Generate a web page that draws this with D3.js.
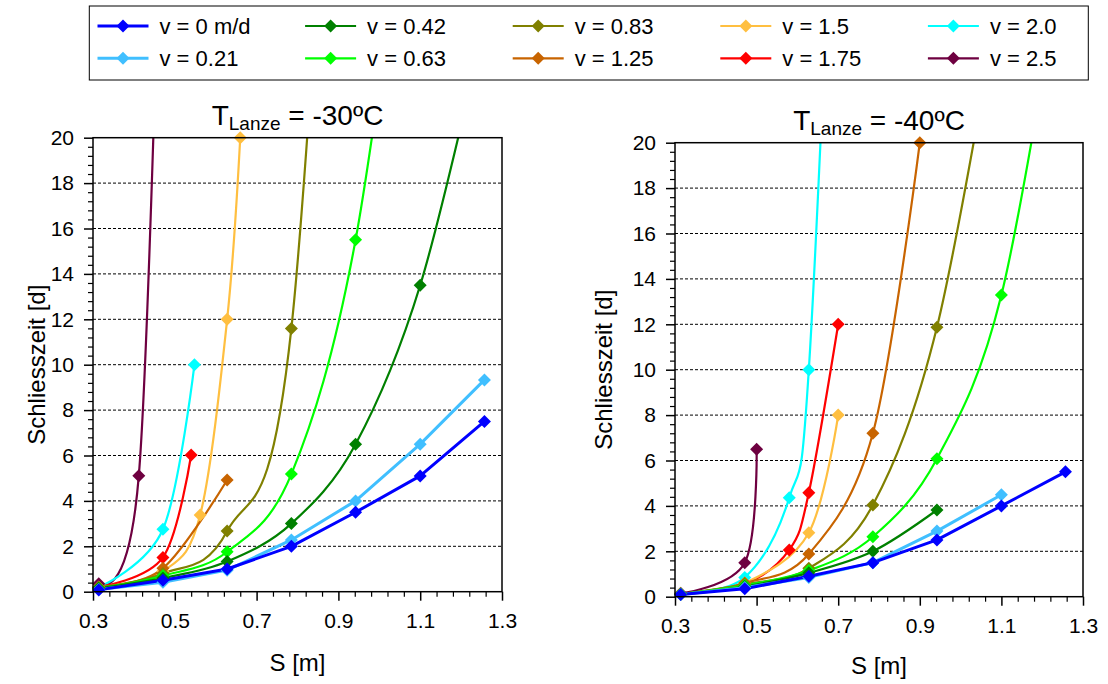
<!DOCTYPE html>
<html>
<head>
<meta charset="utf-8">
<script src="https://cdn.jsdelivr.net/npm/d3@7"></script>
<style>
  html, body { margin: 0; padding: 0; background: #fff; }
  svg { display: block; font-family: "Liberation Sans", Arial, sans-serif; }
</style>
</head>
<body>
<svg id="chart" width="1108" height="684"></svg>
<script>
// ---------------- DATA ----------------
const seriesNames = ["v = 0 m/d", "v = 0.21", "v = 0.42", "v = 0.63", "v = 0.83",
                     "v = 1.25", "v = 1.5", "v = 1.75", "v = 2.0", "v = 2.5"];
const seriesColors = ["#0000FF", "#40BFFF", "#008000", "#00FF00", "#808000",
                      "#C86400", "#FFBF40", "#FF0000", "#00FFFF", "#6E0040"];

const xTicks = [0.3, 0.5, 0.7, 0.9, 1.1, 1.3];
const yTicks = [0, 2, 4, 6, 8, 10, 12, 14, 16, 18, 20];

// T_Lanze = -30 °C  : [S (m), Schliesszeit (d)]; points above 20 lie outside the plot (clipped)
const m30_v000 = [[0.314,0.08],[0.471,0.5],[0.628,1.0],[0.785,2.0],[0.942,3.5],[1.1,5.1],[1.257,7.5]];
const m30_v021 = [[0.314,0.1],[0.471,0.42],[0.628,0.95],[0.785,2.28],[0.942,4.0],[1.1,6.5],[1.257,9.33]];
const m30_v042 = [[0.314,0.15],[0.471,0.6],[0.628,1.33],[0.785,3.0],[0.942,6.5],[1.1,13.5],[1.257,25]];
const m30_v063 = [[0.314,0.15],[0.471,0.7],[0.628,1.76],[0.785,5.18],[0.942,15.5],[1.1,36]];
const m30_v083 = [[0.314,0.2],[0.471,0.8],[0.628,2.67],[0.785,11.6],[0.942,55]];
const m30_v125 = [[0.314,0.2],[0.471,1.03],[0.628,4.92]];
const m30_v150 = [[0.314,0.2],[0.471,0.9],[0.562,3.38],[0.628,12.0],[0.66,20]];
const m30_v175 = [[0.314,0.2],[0.471,1.51],[0.54,6.02]];
const m30_v200 = [[0.314,0.2],[0.471,2.75],[0.548,10.0]];
const m30_v250 = [[0.314,0.35],[0.412,5.11],[0.471,35]];

// T_Lanze = -40 °C
const m40_v000 = [[0.314,0.1],[0.471,0.35],[0.628,0.9],[0.785,1.5],[0.942,2.5],[1.1,4.0],[1.257,5.5]];
const m40_v021 = [[0.314,0.1],[0.471,0.4],[0.628,0.85],[0.785,1.5],[0.942,2.89],[1.1,4.49]];
const m40_v042 = [[0.314,0.1],[0.471,0.45],[0.628,1.05],[0.785,2.0],[0.942,3.82]];
const m40_v063 = [[0.314,0.12],[0.471,0.5],[0.628,1.15],[0.785,2.64],[0.942,6.08],[1.1,13.29],[1.257,29]];
const m40_v083 = [[0.314,0.12],[0.471,0.55],[0.628,1.25],[0.785,4.04],[0.942,11.87],[1.1,27]];
const m40_v125 = [[0.314,0.12],[0.471,0.6],[0.628,1.88],[0.785,7.2],[0.9,20]];
const m40_v150 = [[0.314,0.12],[0.471,0.6],[0.628,2.82],[0.7,8.0]];
const m40_v175 = [[0.314,0.12],[0.471,0.55],[0.58,2.06],[0.628,4.58],[0.7,12.0]];
const m40_v200 = [[0.314,0.12],[0.471,0.85],[0.58,4.36],[0.628,10.0],[0.7,38]];
const m40_v250 = [[0.314,0.15],[0.471,1.5],[0.5,6.5]];

const chart30 = [m30_v000, m30_v021, m30_v042, m30_v063, m30_v083, m30_v125, m30_v150, m30_v175, m30_v200, m30_v250];
const chart40 = [m40_v000, m40_v021, m40_v042, m40_v063, m40_v083, m40_v125, m40_v150, m40_v175, m40_v200, m40_v250];

// ---------------- DRAW ----------------
const svg = d3.select("#chart");
const FONT = '"Liberation Sans", Arial, sans-serif';

function diamond(r) { return `M0,${-r}L${r},0L0,${r}L${-r},0Z`; }

function drawPanel(cfg) {
  const { x0, x1, yTop, yBot, data, tempLabel, id, yTitleX, xTitleY } = cfg;
  const x = d3.scaleLinear().domain([0.3, 1.3]).range([x0, x1]);
  const y = d3.scaleLinear().domain([0, 20]).range([yBot, yTop]);
  const g = svg.append("g");

  // gridlines
  g.append("g").selectAll("line").data(yTicks.filter(v => v > 0 && v < 20)).join("line")
    .attr("x1", x0).attr("x2", x1).attr("y1", d => y(d)).attr("y2", d => y(d))
    .attr("stroke", "#000").attr("stroke-width", 1).attr("stroke-dasharray", "3,2");

  // minor ticks
  const yMinor = d3.range(0, 20.001, 0.4).filter(v => Math.abs(v / 2 - Math.round(v / 2)) > 1e-6);
  g.append("g").attr("transform", `translate(${x0},0)`)
    .call(d3.axisLeft(y).tickValues(yMinor).tickSize(5).tickFormat(""))
    .call(s => s.select(".domain").remove())
    .selectAll("line").attr("stroke-width", 1.2);
  const xMinor = d3.range(0.3, 1.3001, 0.04).filter(v => Math.abs((v - 0.3) / 0.2 - Math.round((v - 0.3) / 0.2)) > 1e-6);
  g.append("g").attr("transform", `translate(0,${yBot})`)
    .call(d3.axisBottom(x).tickValues(xMinor).tickSize(5).tickFormat(""))
    .call(s => s.select(".domain").remove())
    .selectAll("line").attr("stroke-width", 1.2);

  // major axes
  const ya = g.append("g").attr("transform", `translate(${x0},0)`)
    .call(d3.axisLeft(y).tickValues(yTicks).tickSize(9).tickPadding(10).tickFormat(d3.format("d")));
  ya.select(".domain").remove();
  ya.selectAll("line").attr("stroke-width", 1.5);
  ya.selectAll("text").attr("font-size", 21).attr("font-family", FONT).attr("fill", "#000");

  const xa = g.append("g").attr("transform", `translate(0,${yBot})`)
    .call(d3.axisBottom(x).tickValues(xTicks).tickSize(9).tickPadding(12).tickFormat(d3.format(".1f")));
  xa.select(".domain").remove();
  xa.selectAll("line").attr("stroke-width", 1.5);
  xa.selectAll("text").attr("font-size", 21).attr("font-family", FONT).attr("fill", "#000");

  // clip
  svg.append("clipPath").attr("id", id).append("rect")
    .attr("x", x0).attr("y", yTop).attr("width", x1 - x0).attr("height", yBot - yTop);

  const plot = g.append("g").attr("clip-path", `url(#${id})`);
  const lineSmooth = d3.line().x(d => x(d[0])).y(d => y(d[1])).curve(d3.curveCardinal.tension(0));
  const lineStraight = d3.line().x(d => x(d[0])).y(d => y(d[1]));

  // draw series in reverse order so v = 0 ends on top
  for (let i = data.length - 1; i >= 0; i--) {
    const pts = data[i];
    plot.append("path").datum(pts)
      .attr("d", i <= 1 ? lineStraight : lineSmooth)
      .attr("fill", "none").attr("stroke", seriesColors[i])
      .attr("stroke-width", i <= 1 ? 3 : 2.2).attr("stroke-linejoin", "round");
  }
  const mk = g.append("g");
  for (let i = data.length - 1; i >= 0; i--) {
    mk.selectAll(null).data(data[i].filter(d => d[1] <= 20.0001)).join("path")
      .attr("d", diamond(6.5))
      .attr("transform", d => `translate(${x(d[0])},${y(d[1])})`)
      .attr("fill", seriesColors[i]);
  }

  // frame
  g.append("rect").attr("x", x0).attr("y", yTop).attr("width", x1 - x0).attr("height", yBot - yTop)
    .attr("fill", "none").attr("stroke", "#000").attr("stroke-width", 1.5);

  // title
  const t = g.append("text").attr("x", (x0 + x1) / 2).attr("y", yTop - 13)
    .attr("text-anchor", "middle").attr("font-family", FONT).attr("font-size", 28).attr("fill", "#000");
  t.append("tspan").text("T");
  t.append("tspan").attr("font-size", 19).attr("dy", 5).text("Lanze");
  t.append("tspan").attr("dy", -5).text(" = " + tempLabel);

  // axis titles
  g.append("text").attr("transform", `translate(${yTitleX},${(yTop + yBot) / 2}) rotate(-90)`)
    .attr("text-anchor", "middle").attr("font-family", FONT).attr("font-size", 24).attr("fill", "#000")
    .text("Schliesszeit [d]");
  g.append("text").attr("x", (x0 + x1) / 2).attr("y", xTitleY)
    .attr("text-anchor", "middle").attr("font-family", FONT).attr("font-size", 24).attr("fill", "#000")
    .text("S [m]");
}

drawPanel({ x0: 93, x1: 502, yTop: 137.7, yBot: 591.7, data: chart30, tempLabel: "-30ºC",
            id: "clip30", yTitleX: 45, xTitleY: 671 });
drawPanel({ x0: 675, x1: 1083, yTop: 142.7, yBot: 596.7, data: chart40, tempLabel: "-40ºC",
            id: "clip40", yTitleX: 612, xTitleY: 674 });

// ---------------- LEGEND ----------------
const lg = svg.append("g");
lg.append("rect").attr("x", 89.3).attr("y", 6).attr("width", 999).attr("height", 74)
  .attr("fill", "#fff").attr("stroke", "#000").attr("stroke-width", 1);
seriesNames.forEach((name, i) => {
  const col = Math.floor(i / 2), row = i % 2;
  const lx = 97.5 + col * 207.6, ly = 26 + row * 32.3;
  lg.append("line").attr("x1", lx).attr("x2", lx + 51).attr("y1", ly).attr("y2", ly)
    .attr("stroke", seriesColors[i]).attr("stroke-width", i <= 1 ? 3 : 2.2);
  lg.append("path").attr("d", diamond(6.5)).attr("transform", `translate(${lx + 25.5},${ly})`)
    .attr("fill", seriesColors[i]);
  lg.append("text").attr("x", lx + 62).attr("y", ly + 8)
    .attr("font-family", FONT).attr("font-size", 22).attr("fill", "#000").text(name);
});
</script>
</body>
</html>
